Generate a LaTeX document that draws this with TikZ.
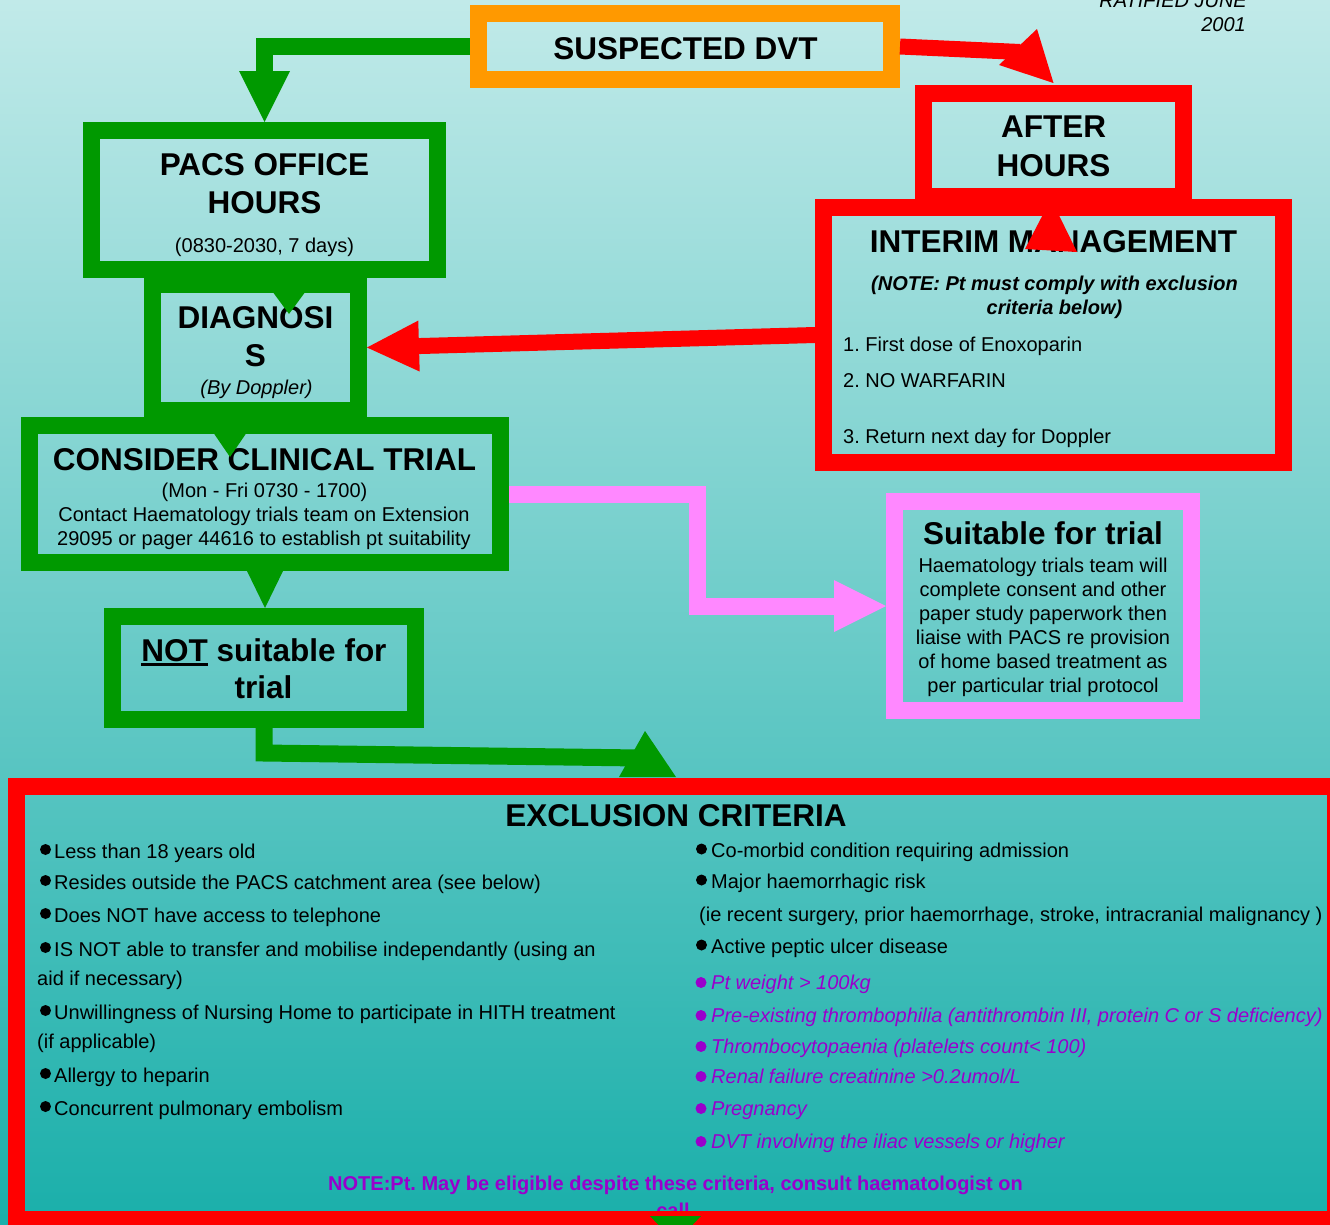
\documentclass[tikz,border=0pt]{standalone}
\usepackage{fontspec}
\setmainfont{Liberation Sans}
\usetikzlibrary{calc}
\definecolor{dgreen}{RGB}{0,153,0}
\definecolor{dorange}{RGB}{255,153,0}
\definecolor{dred}{RGB}{255,0,0}
\definecolor{dpink}{RGB}{255,136,255}
\definecolor{dpurple}{RGB}{153,0,204}
\definecolor{bgtop}{RGB}{193,234,233}
\definecolor{bgmid}{RGB}{134,208,204}
\definecolor{bgbot}{RGB}{26,175,170}
\newcommand{\ulword}[1]{\setbox0=\hbox{#1}\rlap{\rule[-5pt]{\wd0}{3pt}}\box0\relax}
\frenchspacing
\begin{document}
\begin{tikzpicture}[x=1pt,y=-1pt,
  boxbase/.style={draw, line width=17pt, inner sep=0pt, outer sep=8.5pt},
  gbox/.style={boxbase, draw=dgreen},
  obox/.style={boxbase, draw=dorange},
  rbox/.style={boxbase, draw=dred},
  pbox/.style={boxbase, draw=dpink},
  hd/.style={font=\bfseries\fontsize{31.5}{38}\selectfont, inner sep=0pt, anchor=base},
  bd/.style={font=\fontsize{20}{24}\selectfont, inner sep=0pt, anchor=base},
  bdl/.style={bd, anchor=base west},
  bdi/.style={bd, font=\fontsize{20}{24}\selectfont\itshape},
  pur/.style={bdl, text=dpurple, font=\fontsize{20}{24}\selectfont\itshape},
  gline/.style={draw=dgreen, line width=17pt},
  rline/.style={draw=dred, line width=16pt},
  pline/.style={draw=dpink, line width=17pt},
  bul/.style={fill=black},
  pbul/.style={fill=dpurple}
]
\useasboundingbox (0,0) rectangle (1330,1224);
\clip (0,0) rectangle (1330,1224);
\shade[top color=bgtop, middle color=bgmid, bottom color=bgbot] (0,0) rectangle (1330,1224);

% ---------- boxes ----------
\node[gbox, minimum width=346pt, minimum height=139pt] (pacs) at (264.5,200) {};
\node[gbox, minimum width=206pt, minimum height=126pt] (diag) at (255.5,347.5) {};
\node[gbox, minimum width=471pt, minimum height=137pt] (cons) at (265,494) {};
\node[gbox, minimum width=303pt, minimum height=103pt] (notb) at (264,668) {};
\node[obox, minimum width=413pt, minimum height=66pt] (sus) at (685,46.5) {};
\node[rbox, minimum width=260pt, minimum height=103pt] (after) at (1053.5,145) {};
\node[rbox, minimum width=460pt, minimum height=255pt] (interim) at (1053.5,335) {};
\node[pbox, minimum width=297pt, minimum height=209pt] (suit) at (1043,606) {};

% ---------- texts ----------
\node[bdi, anchor=base east] (rat1) at (1247,7) {RATIFIED JUNE};
\node[bdi, anchor=base east] (rat2) at (1246,31) {2001};

\node[hd] (tsus) at (685.5,59) {SUSPECTED DVT};

\node[hd] (tpacs1) at (264.5,175) {PACS OFFICE};
\node[hd] (tpacs2) at (264.5,213) {HOURS};
\node[bd] (tpacs3) at (264.5,252) {(0830-2030, 7 days)};

\node[hd] (tdiag1) at (255.5,328) {DIAGNOSI};
\node[hd] (tdiag2) at (255.5,366) {S};
\node[bdi] (tdiag3) at (256.5,394) {(By Doppler)};

\node[hd] (tcons1) at (264.5,470) {CONSIDER CLINICAL TRIAL};
\node[bd] (tcons2) at (264.5,497) {(Mon - Fri 0730 - 1700)};
\node[bd] (tcons3) at (264,521) {Contact Haematology trials team on Extension};
\node[bd] (tcons4) at (264,545) {29095 or pager 44616 to establish pt suitability};

\node[hd] (tnot1) at (264,661) {\ulword{NOT} suitable for};
\node[hd] (tnot2) at (263.5,698) {trial};

\node[hd] (taft1) at (1053.5,137) {AFTER};
\node[hd] (taft2) at (1053.5,176) {HOURS};

\node[hd] (tint1) at (1053.5,252) {INTERIM MANAGEMENT};
\node[bd, font=\fontsize{20}{24}\selectfont\bfseries\itshape] (tint2) at (1054.5,290) {(NOTE: Pt must comply with exclusion};
\node[bd, font=\fontsize{20}{24}\selectfont\bfseries\itshape] (tint3) at (1054.5,314) {criteria below)};
\node[bdl] (tint4) at (843,351) {1. First dose of Enoxoparin};
\node[bdl] (tint5) at (843,387) {2. NO WARFARIN};
\node[bdl] (tint6) at (843,443) {3. Return next day for Doppler};

\node[hd] (tsuit1) at (1043,544) {Suitable for trial};
\node[bd] (tsuit2) at (1043,572) {Haematology trials team will};
\node[bd] (tsuit3) at (1043,596) {complete consent and other};
\node[bd] (tsuit4) at (1043,620) {paper study paperwork then};
\node[bd] (tsuit5) at (1043,644) {liaise with PACS re provision};
\node[bd] (tsuit6) at (1043,668) {of home based treatment as};
\node[bd] (tsuit7) at (1043,692) {per particular trial protocol};

% exclusion criteria content
\node[hd] (texc) at (676,826) {EXCLUSION CRITERIA};
\foreach \yy in {858,889,922,956,1019,1082,1115} {\fill[bul] (45.5,\yy-8.5) circle[radius=5.5pt];}
\node[bdl] (l1) at (54,858) {Less than 18 years old};
\node[bdl] (l2) at (54,889) {Resides outside the PACS catchment area (see below)};
\node[bdl] (l3) at (54,922) {Does NOT have access to telephone};
\node[bdl] (l4) at (54,956) {IS NOT able to transfer and mobilise independantly (using an};
\node[bdl] (l4b) at (37,985) {aid if necessary)};
\node[bdl] (l5) at (54,1019) {Unwillingness of Nursing Home to participate in HITH treatment};
\node[bdl] (l5b) at (37,1048) {(if applicable)};
\node[bdl] (l6) at (54,1082) {Allergy to heparin};
\node[bdl] (l7) at (54,1115) {Concurrent pulmonary embolism};

\foreach \yy in {857,888,953} {\fill[bul] (701.5,\yy-8) circle[radius=5.5pt];}
\node[bdl] (r1) at (711,857) {Co-morbid condition requiring admission};
\node[bdl] (r2) at (711,888) {Major haemorrhagic risk};
\node[bdl] (r2b) at (699,921) {(ie recent surgery, prior haemorrhage, stroke, intracranial malignancy )};
\node[bdl] (r3) at (711,953) {Active peptic ulcer disease};
\foreach \yy in {989,1022,1053,1083,1115,1148} {\fill[pbul] (701,\yy-6.5) circle[radius=5.5pt];}
\node[pur] (r4) at (711,989) {Pt weight > 100kg};
\node[pur] (r5) at (711,1022) {Pre-existing thrombophilia (antithrombin III, protein C or S deficiency)};
\node[pur] (r6) at (711,1053) {Thrombocytopaenia (platelets count< 100)};
\node[pur] (r7) at (711,1083) {Renal failure creatinine >0.2umol/L};
\node[pur] (r8) at (711,1115) {Pregnancy};
\node[pur] (r9) at (711,1148) {DVT involving the iliac vessels or higher};
\node[bd, text=dpurple, font=\fontsize{20}{24}\selectfont\bfseries] (note1) at (675.5,1190) {NOTE:Pt. May be eligible despite these criteria, consult haematologist on};
\node[bd, text=dpurple, font=\fontsize{20}{24}\selectfont\bfseries] (note2) at (673,1217) {call};

\node[rbox, minimum width=1319pt, minimum height=433pt] (excl) at (676,1003) {};

% ---------- connectors ----------
% SUSPECTED -> PACS (green)
\draw[gline] (sus.west) -| ($(pacs.north)+(0,-50)$);
\fill[dgreen] ($(pacs.north)+(-25.5,-51)$) -- (pacs.north) -- ($(pacs.north)+(25.5,-51)$) -- cycle;

% SUSPECTED -> AFTER HOURS (red)
\draw[rline] (sus.east) -- (1020,52);
\fill[dred] ($(after.north)+(-16.5,-56)$) -- ($(after.north)+(0,-2)$) -- ($(after.north)+(-54.5,-20)$) -- cycle;

% PACS -> DIAGNOSIS (green)
\coordinate (pd) at ($(pacs.south)+(24.5,36)$);
\fill[dgreen] ($(pd)+(-26.5,-36)$) -- (pd) -- ($(pd)+(26.5,-36)$) -- cycle;

% DIAGNOSIS -> CONSIDER (green)
\coordinate (dc) at ($(diag.south)+(-25.5,38)$);
\fill[dgreen] ($(dc)+(-26,-38)$) -- (dc) -- ($(dc)+(26,-38)$) -- cycle;

% CONSIDER -> NOT suitable (green)
\fill[dgreen] ($(cons.south)+(-18,0)$) -- (cons.south |- notb.north) -- ($(cons.south)+(18,0)$) -- cycle;

% NOT suitable -> EXCLUSION (green)
\draw[gline] (notb.south) -- ++(0,25) -- ($(excl.north)+(-36,-20)$);
\fill[dgreen] ($(excl.north)+(-57,-1)$) -- ($(excl.north)+(-31,-47)$) -- ($(excl.north)+(0,-1)$) -- cycle;

% INTERIM -> DIAGNOSIS (red)
\coordinate (rb) at ($(diag.east)!52pt!(interim.west)$);
\draw[rline] (interim.west) -- (rb);
\fill[dred] (diag.east) -- ($(rb)!25.5pt!90:(diag.east)$) -- ($(rb)!25.5pt!-90:(diag.east)$) -- cycle;

% INTERIM -> AFTER HOURS (red head)
\fill[dred] ($(interim.north)+(-2.5,0)$) -- ($(interim.north)+(-28.5,50)$) -- ($(interim.north)+(23.5,53)$) -- cycle;

% CONSIDER -> Suitable (pink)
\draw[pline] (cons.east) -| ($(suit.west)+(-188.5,0)$) -- ($(suit.west)+(-51,0)$);
\fill[dpink] (suit.west) -- ($(suit.west)+(-52,-26)$) -- ($(suit.west)+(-52,26)$) -- cycle;

% EXCLUSION -> below (green head)
\fill[dgreen] ($(excl.south)+(-26,-12)$) -- ($(excl.south)+(25,-12)$) -- ($(excl.south)+(-0.5,15)$) -- cycle;
\end{tikzpicture}
\end{document}
